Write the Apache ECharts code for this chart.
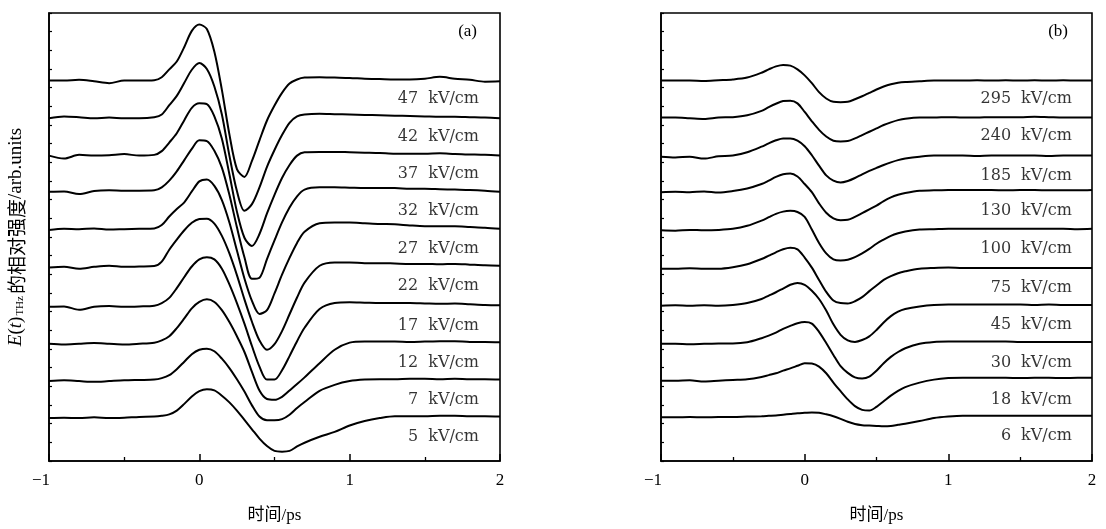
<!DOCTYPE html>
<html><head><meta charset="utf-8">
<script src="https://cdn.jsdelivr.net/npm/echarts@6/dist/echarts.min.js"></script>
<style>html,body{margin:0;padding:0;background:#fff}#c{width:1106px;height:529px}</style>
</head><body><div id="c"></div>
<script>
// time axis (ps)
const TIME = [-1,-0.9,-0.8,-0.7,-0.6,-0.5,-0.4,-0.3,-0.25,-0.2,-0.15,-0.1,-0.05,0,0.05,0.1,0.15,0.2,0.25,0.3,0.35,0.4,0.45,0.5,0.55,0.6,0.65,0.7,0.8,0.9,1.0,1.1,1.2,1.3,1.4,1.5,1.6,1.7,1.8,1.9,2.0];
const X_TICKS = [-1,0,1,2];

// panel (a): field strengths (kV/cm) and vertical baseline offsets (arb. units)
const FIELDS_A = [5,7,12,17,22,27,32,37,42,47];
const BASE_A = [1.15,2.14,3.14,4.13,5.18,6.19,7.21,8.18,9.18,10.19];
const A5  = [0,0.01,0,0.02,0,0.01,0.03, 0.04,0.06,0.1,0.2,0.38,0.58,0.72,0.77,0.74,0.6,0.42,0.2,-0.05,-0.3,-0.55,-0.75,-0.88,-0.9,-0.88,-0.76, -0.66,-0.5,-0.37,-0.2,-0.08,0,0.05,0.05,0.05,0.06,0.06,0.05,0.05,0.04];
const A7  = [0,0.02,0,-0.02,0,0.02,0.03, 0.04,0.08,0.16,0.32,0.52,0.72,0.84,0.87,0.8,0.6,0.35,0.05,-0.28,-0.65,-0.95,-1.05,-1.05,-1.02,-0.9,-0.72, -0.56,-0.26,-0.1,0,0.04,0.05,0.05,0.06,0.06,0.05,0.06,0.05,0.05,0.04];
const A12 = [0,-0.02,0,0.02,0,-0.02,0, 0.03,0.09,0.2,0.42,0.68,0.95,1.12,1.19,1.12,0.9,0.58,0.2,-0.22,-0.75,-1.25,-1.48,-1.5,-1.42,-1.25,-1.08, -0.9,-0.52,-0.16,0.03,0.06,0.06,0.06,0.05,0.06,0.07,0.07,0.05,0.05,0.04];
const A17 = [0,0.01,-0.08,0,0.02,0,0.01, 0.03,0.1,0.24,0.5,0.8,1.08,1.27,1.33,1.27,1.02,0.6,0.1,-0.45,-1.05,-1.6,-1.95,-1.95,-1.7,-1.32,-0.92, -0.56,-0.06,0.1,0.12,0.11,0.1,0.1,0.1,0.09,0.08,0.09,0.07,0.05,0.04];
const A22 = [0,0.02,-0.03,0.02,0.05,0.02,0.03, 0.04,0.16,0.48,0.75,1.0,1.2,1.3,1.31,1.18,0.85,0.38,-0.2,-0.85,-1.45,-1.95,-2.2,-2.05,-1.7,-1.25,-0.8, -0.4,0.05,0.14,0.14,0.12,0.12,0.11,0.1,0.1,0.09,0.1,0.08,0.06,0.05];
const A27 = [0,0.03,0.02,0.04,0.01,0.02,0.03, 0.04,0.13,0.36,0.56,0.74,1.03,1.3,1.35,1.18,0.8,0.2,-0.55,-1.3,-1.9,-2.25,-2.15,-1.7,-1.2,-0.75,-0.35, -0.05,0.18,0.2,0.2,0.18,0.16,0.15,0.12,0.1,0.1,0.1,0.08,0.06,0.03];
const A32 = [0,0.01,-0.06,0.02,0.04,0.03,0.03, 0.04,0.12,0.3,0.55,0.85,1.15,1.38,1.36,1.1,0.65,-0.08,-0.95,-1.75,-2.33,-2.3,-1.8,-1.3,-0.82,-0.42,-0.12, 0.06,0.12,0.12,0.11,0.1,0.1,0.1,0.08,0.08,0.07,0.06,0.05,0.03,0];
const A37 = [0,-0.08,0.02,0,0.01,0.04,0, 0.02,0.12,0.35,0.6,0.95,1.28,1.4,1.38,1.05,0.45,-0.5,-1.5,-2.2,-2.42,-2.1,-1.55,-1.05,-0.6,-0.25,0, 0.09,0.1,0.1,0.09,0.08,0.07,0.05,0.05,0.05,0.06,0.04,0.03,0.02,0];
const A42 = [0,0.05,0.03,0,0.02,0,0, 0.03,0.1,0.35,0.6,0.95,1.3,1.48,1.32,0.85,0.1,-1.0,-1.95,-2.48,-2.3,-1.85,-1.3,-0.85,-0.45,-0.12,0.05, 0.1,0.12,0.11,0.1,0.09,0.08,0.07,0.06,0.05,0.04,0.04,0.03,0.02,0];
const A47 = [0,0,0.02,-0.02,-0.07,0,0, 0.01,0.09,0.3,0.51,0.9,1.33,1.5,1.38,0.77,-0.25,-1.44,-2.37,-2.58,-2.15,-1.6,-1.07,-0.67,-0.33,-0.08,0.03, 0.08,0.09,0.08,0.07,0.05,0.04,0.03,0.03,0.05,0.1,0.05,0.02,-0.03,-0.02];
const VALUES_A = [A5,A7,A12,A17,A22,A27,A32,A37,A42,A47];

// panel (b)
const FIELDS_B = [6,18,30,45,75,100,130,185,240,295];
const BASE_B = [1.17,2.15,3.14,4.16,5.15,6.18,7.2,8.15,9.2,10.19];
const B6   = [0,0,0.01,0,0.01,0.01,0.02, 0.03,0.04,0.05,0.07,0.09,0.11,0.12,0.13,0.12,0.08,0.03,-0.04,-0.12,-0.18,-0.21,-0.22,-0.23,-0.24,-0.23,-0.2, -0.17,-0.1,-0.02,0.02,0.04,0.04,0.04,0.04,0.04,0.04,0.04,0.04,0.04,0.04];
const B18  = [0,0,0.01,-0.02,0,0.02,0.04, 0.1,0.15,0.2,0.27,0.33,0.4,0.47,0.46,0.38,0.2,-0.05,-0.28,-0.5,-0.68,-0.78,-0.8,-0.7,-0.55,-0.4,-0.27, -0.17,-0.05,0.03,0.07,0.08,0.08,0.08,0.08,0.07,0.08,0.08,0.07,0.08,0.08];
const B30  = [0,0,-0.01,0,0.01,0.01,0.04, 0.15,0.22,0.3,0.4,0.48,0.55,0.58,0.54,0.32,0.02,-0.3,-0.6,-0.78,-0.9,-0.93,-0.88,-0.72,-0.52,-0.35,-0.22, -0.12,0,0.05,0.06,0.06,0.06,0.06,0.06,0.05,0.05,0.05,0.05,0.05,0.05];
const B45  = [0,0.01,0,0.01,0,0.02,0.07, 0.18,0.27,0.36,0.46,0.56,0.61,0.56,0.4,0.18,-0.13,-0.5,-0.78,-0.93,-0.97,-0.92,-0.82,-0.65,-0.45,-0.28,-0.16, -0.09,-0.02,0.02,0.03,0.03,0.03,0.03,0.03,0.03,0.02,0.03,0.02,0.02,0.02];
const B75  = [0,0,0.01,0,0,0.04,0.12, 0.26,0.35,0.44,0.52,0.56,0.52,0.3,0.03,-0.3,-0.62,-0.85,-0.92,-0.93,-0.87,-0.76,-0.6,-0.45,-0.3,-0.2,-0.12, -0.07,0,0.02,0.03,0.02,0.02,0.02,0.02,0.02,0.02,0.02,0.02,0.02,0.02];
const B100 = [0,-0.01,0.01,0,0.01,0.04,0.12, 0.26,0.35,0.44,0.5,0.52,0.49,0.36,0.02,-0.34,-0.62,-0.78,-0.81,-0.79,-0.72,-0.62,-0.5,-0.36,-0.25,-0.15,-0.08, -0.03,0.02,0.03,0.04,0.04,0.04,0.04,0.04,0.04,0.04,0.04,0.04,0.03,0.04];
const B130 = [0,0.01,0,0.02,-0.01,0.03,0.1, 0.22,0.31,0.41,0.48,0.5,0.42,0.22,0,-0.3,-0.55,-0.7,-0.75,-0.74,-0.66,-0.56,-0.46,-0.36,-0.24,-0.14,-0.07, -0.02,0.04,0.05,0.06,0.06,0.06,0.06,0.05,0.06,0.06,0.05,0.05,0.05,0.06];
const B185 = [0,-0.02,0,-0.05,0.01,0.03,0.12, 0.27,0.36,0.44,0.49,0.49,0.43,0.28,0.04,-0.24,-0.5,-0.64,-0.69,-0.65,-0.57,-0.47,-0.38,-0.3,-0.22,-0.15,-0.09, -0.05,0,0.03,0.03,0.03,0.02,0.03,0.03,0.03,0.03,0.02,0.03,0.03,0.03];
const B240 = [0,0,-0.02,-0.04,0,0.01,0.06, 0.18,0.28,0.37,0.44,0.45,0.38,0.15,-0.1,-0.33,-0.51,-0.62,-0.64,-0.63,-0.56,-0.47,-0.38,-0.29,-0.2,-0.13,-0.07, -0.03,0,0,0.01,0,0,0.01,0.01,0.01,0.02,0.01,0,0,0];
const B295 = [0,0,0,-0.01,0.01,0.03,0.08, 0.21,0.3,0.38,0.42,0.4,0.3,0.14,-0.07,-0.31,-0.48,-0.57,-0.58,-0.57,-0.5,-0.42,-0.33,-0.24,-0.16,-0.1,-0.06, -0.04,-0.02,0,0,0,0.01,0,0.01,0,0.01,0,0.01,0,0];
const VALUES_B = [B6,B18,B30,B45,B75,B100,B130,B185,B240,B295];

const SERIF = "'Liberation Serif','Times New Roman','Noto Sans CJK SC',serif";
const LSERIF = "'DejaVu Serif','Liberation Serif',serif";
const LABEL_T = 1.86;   // time at which the right-aligned field labels end
const LABEL_DY = 0.5;   // labels sit half a step below each baseline

const chart = echarts.init(document.getElementById('c'), null, {renderer:'canvas'});

function traceSeries(vals, base, idx) {
  return {
    type:'line', xAxisIndex:idx, yAxisIndex:idx,
    data: TIME.map((t,i)=>[t, base + vals[i]]),
    symbol:'none', smooth:0.3, silent:true, animation:false,
    lineStyle:{color:'#000', width:2}
  };
}
function labelSeries(fields, bases, idx) {
  return {
    type:'scatter', xAxisIndex:idx, yAxisIndex:idx, silent:true, animation:false,
    symbolSize:0, itemStyle:{color:'#000'},
    data: fields.map((f,i)=>({name:String(f), value:[LABEL_T, bases[i]-LABEL_DY]})),
    label:{show:true, position:'left', distance:0, color:'#000',
      formatter: p => '{n|'+p.name+'}{u|kV/cm}',
      rich:{n:{fontFamily:LSERIF, fontSize:16, color:'#000', padding:[0,10,0,0]},
            u:{fontFamily:LSERIF, fontSize:16, color:'#000'}}}
  };
}
function xAxisCfg(idx) {
  return {
    gridIndex:idx, type:'value', min:X_TICKS[0], max:X_TICKS[X_TICKS.length-1], interval:1,
    axisLine:{show:true, onZero:false, lineStyle:{color:'#000', width:1.6}},
    axisTick:{show:true, inside:true, length:7, lineStyle:{color:'#000', width:1.5}},
    minorTick:{show:true, splitNumber:2, length:4, lineStyle:{color:'#000', width:1.3}},
    splitLine:{show:false}, minorSplitLine:{show:false},
    axisLabel:{margin:11, color:'#000', fontFamily:SERIF, fontSize:17,
      formatter: v => v < 0 ? '{m|\u2212' + Math.abs(v) + '}' : String(v),
      rich:{m:{fontFamily:SERIF, fontSize:17, color:'#000', padding:[0,16,0,0]}}},
    name:'时间/ps', nameLocation:'middle', nameGap:46,
    nameTextStyle:{color:'#000', fontFamily:SERIF, fontSize:17}
  };
}
function yAxisCfg(idx, withName) {
  const c = {
    gridIndex:idx, type:'value', min:0, max:12, interval:0.5,
    axisLine:{show:true, onZero:false, lineStyle:{color:'#000', width:1.6}},
    axisTick:{show:true, inside:true, length:3, lineStyle:{color:'#000', width:1.2}},
    axisLabel:{show:false}, splitLine:{show:false}
  };
  if (withName) {
    c.name = '{i|E}{r|(}{i|t}{r|)}{s|THz}{c|的相对强度}{r|/arb.units}';
    c.nameLocation = 'middle';
    c.nameRotate = 90;
    c.nameGap = 23;
    c.nameTextStyle = {color:'#000', rich:{
      i:{fontFamily:SERIF, fontStyle:'italic', fontSize:19, color:'#000'},
      r:{fontFamily:SERIF, fontSize:19, color:'#000'},
      s:{fontFamily:SERIF, fontSize:11, color:'#000', verticalAlign:'bottom', padding:[8,2,0,1]},
      c:{fontFamily:"'Noto Sans CJK SC',sans-serif", fontSize:19, color:'#000'}
    }};
  }
  return c;
}

const series = [];
VALUES_A.forEach((v,i)=>series.push(traceSeries(v, BASE_A[i], 0)));
VALUES_B.forEach((v,i)=>series.push(traceSeries(v, BASE_B[i], 1)));
series.push(labelSeries(FIELDS_A, BASE_A, 0));
series.push(labelSeries(FIELDS_B, BASE_B, 1));

chart.setOption({
  animation:false,
  backgroundColor:'#fff',
  title:[
    {text:'(a)', right:629, top:23, padding:0, textStyle:{fontFamily:SERIF, fontSize:17, fontWeight:'normal', color:'#000'}},
    {text:'(b)', right:38, top:23, padding:0, textStyle:{fontFamily:SERIF, fontSize:17, fontWeight:'normal', color:'#000'}}
  ],
  grid:[
    {left:49, right:606, top:13, bottom:64, show:true, borderColor:'#000', borderWidth:1.6, backgroundColor:'transparent'},
    {left:661, right:14, top:13, bottom:64, show:true, borderColor:'#000', borderWidth:1.6, backgroundColor:'transparent'}
  ],
  xAxis:[xAxisCfg(0), xAxisCfg(1)],
  yAxis:[yAxisCfg(0,true), yAxisCfg(1,false)],
  series: series
});
</script>
</body></html>
